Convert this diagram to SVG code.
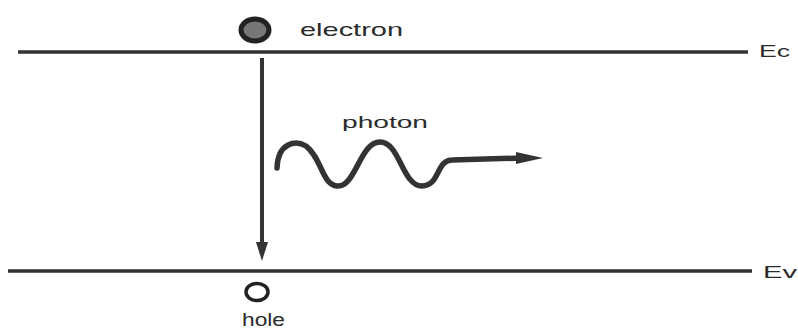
<svg xmlns="http://www.w3.org/2000/svg" width="798" height="329" viewBox="0 0 798 329">
<defs>
<style>
.lvl{stroke:#333;stroke-width:3.5;fill:none}
.lbl{font-family:"Liberation Sans",Arial,sans-serif;fill:#2b2b2b}
.wave{stroke:#333;stroke-width:5.5;fill:none;stroke-linecap:round;stroke-linejoin:round}
</style>
</defs>
<rect width="798" height="329" fill="#fff"/>
<g id="Ec">
<line class="lvl" x1="18" y1="52" x2="748" y2="52"/>
<text class="lbl" x="759" y="57" font-size="17" textLength="31" lengthAdjust="spacingAndGlyphs">Ec</text>
</g>
<g id="Ev">
<line class="lvl" x1="8" y1="271" x2="752" y2="271"/>
<text class="lbl" x="763" y="278" font-size="17" textLength="34" lengthAdjust="spacingAndGlyphs">Ev</text>
</g>
<g id="electron">
<ellipse cx="255" cy="30" rx="14" ry="11" fill="#777" stroke="#222" stroke-width="5"/>
<text class="lbl" x="300" y="36" font-size="19" textLength="103" lengthAdjust="spacingAndGlyphs">electron</text>
</g>
<g id="hole">
<ellipse cx="257" cy="292" rx="11" ry="8.5" fill="none" stroke="#222" stroke-width="3.5"/>
<text class="lbl" x="242" y="326" font-size="18" textLength="43" lengthAdjust="spacingAndGlyphs">hole</text>
</g>
<g id="photon">
<text class="lbl" x="342" y="128" font-size="17" textLength="86" lengthAdjust="spacingAndGlyphs">photon</text>
</g>
<g id="connectors">
<line x1="262" y1="58" x2="262" y2="245" stroke="#333" stroke-width="4"/>
<polygon points="256,242 262,261 268,242" fill="#333"/>
<path class="wave" d="M277,168 C278,142 296,140 306,146 C322,158 322,186 338,186 C356,186 360,142 380,142 C400,142 402,186 422,186 C440,186 436,160 452,160 L522,158"/>
<polygon points="516,152 543,158 516,164" fill="#333"/>
</g>
</svg>
